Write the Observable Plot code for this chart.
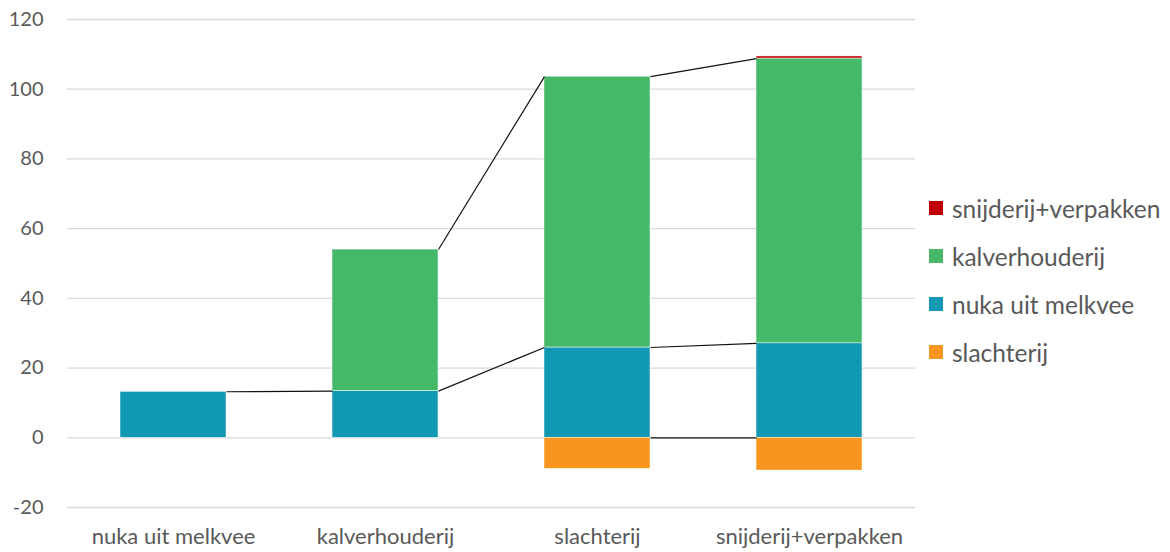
<!DOCTYPE html>
<html>
<head>
<meta charset="utf-8">
<script src="https://cdn.jsdelivr.net/npm/d3@7"></script>
<script src="https://cdn.jsdelivr.net/npm/@observablehq/plot@0.6"></script>
<style>
  html, body { margin: 0; padding: 0; background: #fff; }
  #wrap { position: relative; width: 1170px; height: 552px; font-family: Lato, "Open Sans", sans-serif; }
  #legend { position: absolute; left: 929px; top: 0; }
  .item { position: absolute; left: 0; display: flex; align-items: center; white-space: nowrap; font-size: 24.5px; color: #595959; }
  .sw { width: 14px; height: 14px; margin-right: 9px; }
</style>
</head>
<body>
<div id="wrap"><div id="legend"></div></div>
<script>
const categories = ["nuka uit melkvee", "kalverhouderij", "slachterij", "snijderij+verpakken"];
const seriesNames = ["nuka uit melkvee", "kalverhouderij", "snijderij+verpakken", "slachterij"];
const nuka = [13.2, 13.4, 25.9, 27.1];
const kalver = [null, 40.6, 77.7, 81.7];
const snijderij = [null, null, null, 0.6];
const slachterij = [null, null, -8.9, -9.4];
const colors = {
  "snijderij+verpakken": "#C00000",
  "kalverhouderij": "#45B968",
  "nuka uit melkvee": "#1199B4",
  "slachterij": "#F7951E"
};
const legendOrder = ["snijderij+verpakken", "kalverhouderij", "nuka uit melkvee", "slachterij"];
const yTicks = [-20, 0, 20, 40, 60, 80, 100, 120];

const valuesBySeries = {
  "nuka uit melkvee": nuka,
  "kalverhouderij": kalver,
  "snijderij+verpakken": snijderij,
  "slachterij": slachterij
};

// stack
const bars = [];
const tops = {};
seriesNames.forEach(s => tops[s] = categories.map(() => null));
categories.forEach((c, i) => {
  let pos = 0, neg = 0;
  seriesNames.forEach(s => {
    const v = valuesBySeries[s][i];
    if (v == null) return;
    if (v >= 0) {
      bars.push({i, s, y1: pos, y2: pos + v});
      pos += v;
      tops[s][i] = pos;
    } else {
      bars.push({i, s, y1: neg, y2: neg + v});
      tops[s][i] = neg;
      neg += v;
    }
  });
});
const links = [];
seriesNames.forEach(s => {
  for (let i = 0; i < categories.length - 1; i++) {
    const a = tops[s][i], b = tops[s][i + 1];
    if (a != null && b != null) links.push({x1: i + 0.25, x2: i + 0.75, y1: a, y2: b});
  }
});

const chart = Plot.plot({
  width: 1170,
  height: 552,
  marginLeft: 67,
  marginRight: 255,
  marginTop: 19,
  marginBottom: 45,
  style: {fontFamily: "Lato, 'Open Sans', sans-serif", fontSize: "19px", color: "#595959", background: "white"},
  x: {type: "linear", domain: [-0.5, categories.length - 0.5]},
  y: {domain: [-20, 120]},
  marks: [
    Plot.gridY(yTicks, {stroke: "#d9d9d9", strokeOpacity: 1, strokeWidth: 1.3}),
    Plot.rect(bars, {x1: d => d.i - 0.25, x2: d => d.i + 0.25, y1: "y1", y2: "y2", fill: d => colors[d.s], stroke: "white", strokeWidth: 0.5}),
    Plot.link(links, {x1: "x1", x2: "x2", y1: "y1", y2: "y2", stroke: "#111", strokeWidth: 1.2}),
    Plot.axisY(yTicks, {tickSize: 0, tickPadding: 24, label: null, tickFormat: d => String(d), fill: "#595959", fontSize: 20}),
    Plot.axisX(d3.range(categories.length), {tickSize: 0, tickPadding: 21, label: null, tickFormat: i => categories[i], fill: "#595959", fontSize: 22})
  ]
});
document.getElementById("wrap").prepend(chart);

const legend = document.getElementById("legend");
legendOrder.forEach((s, k) => {
  const it = document.createElement("div");
  it.className = "item";
  it.style.top = (208 + 48 * k - 16) + "px";
  it.style.height = "32px";
  it.innerHTML = `<div class="sw" style="background:${colors[s]}"></div><span>${s}</span>`;
  legend.appendChild(it);
});
</script>
</body>
</html>
